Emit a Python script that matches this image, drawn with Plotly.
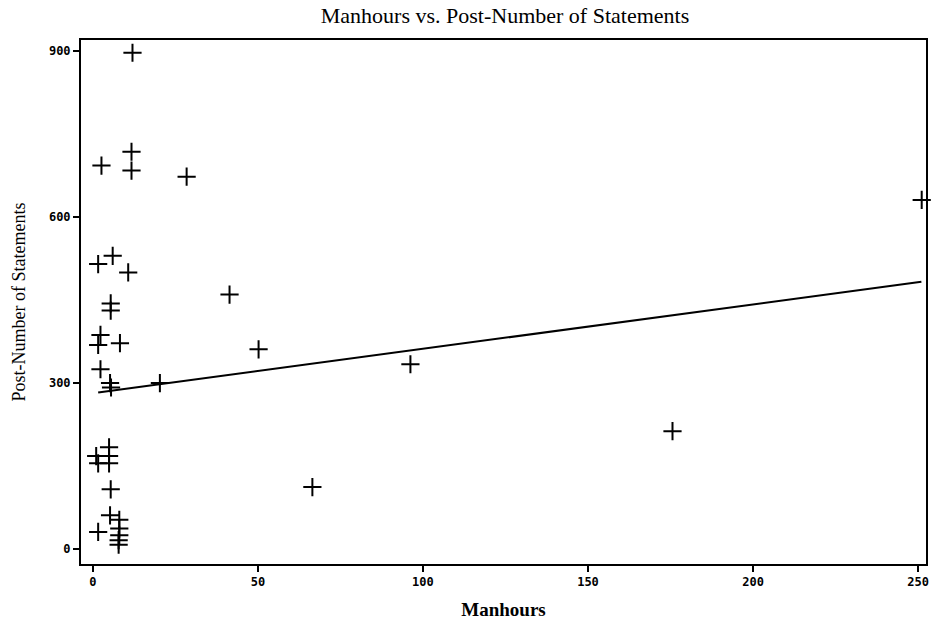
import plotly.graph_objects as go

# Scatter data (Manhours, Post-Number of Statements)
manhours = [12, 11.7, 2.6, 11.7, 28.4, 1.6, 6.0, 10.7, 41.4, 5.4, 5.4,
            2.3, 1.6, 8.2, 50.2, 2.3, 5.2, 5.5, 20.3,
            4.9, 1.0, 4.9, 1.6, 4.9, 5.4, 66.5,
            5.2, 8.0, 1.6, 8.0, 8.0, 7.8, 7.8,
            96.2, 175.6, 251.1]
statements = [897, 718, 693, 684, 673, 515, 530, 500, 460, 444, 431,
              387, 369, 372, 361, 325, 300, 292, 300,
              184, 168, 168, 155, 155, 108, 112,
              61, 53, 31, 37, 25, 16, 8,
              334, 213, 631]

# Fitted regression line endpoints
fit_x = [1.6, 251.0]
fit_y = [283, 483]

x_ticks = [0, 50, 100, 150, 200, 250]
y_ticks = [0, 300, 600, 900]

fig = go.Figure()
fig.add_trace(go.Scatter(
    x=fit_x, y=fit_y, mode="lines",
    line=dict(color="black", width=2), showlegend=False, hoverinfo="skip"))
fig.add_trace(go.Scatter(
    x=manhours, y=statements, mode="markers", cliponaxis=False,
    marker=dict(symbol="cross-thin", size=13, line=dict(color="black", width=2)),
    showlegend=False))

tick_font = dict(family="DejaVu Sans Mono", size=12, color="black", weight="bold")
fig.update_layout(
    width=932, height=634,
    margin=dict(l=81, r=6, t=40, b=70),
    paper_bgcolor="white", plot_bgcolor="white",
    title=dict(text="Manhours vs. Post-Number of Statements",
               x=505 / 932, xanchor="center", xref="container",
               y=1 - 15 / 634, yanchor="middle", yref="container",
               font=dict(family="Liberation Serif", size=22, color="black")),
    xaxis=dict(range=[-3.6, 252.4], tickvals=x_ticks, ticktext=[str(v) for v in x_ticks],
               automargin=False,
               showgrid=False, zeroline=False, showline=True, linecolor="black", linewidth=2,
               mirror=True, ticks="outside", ticklen=6, tickwidth=2, tickcolor="black",
               tickfont=tick_font,
               title=dict(text="Manhours", standoff=14,
                          font=dict(family="Liberation Serif", size=19, color="black",
                                    weight="bold"))),
    yaxis=dict(range=[-27, 920], tickvals=y_ticks, ticktext=[str(v) for v in y_ticks],
               automargin=False,
               showgrid=False, zeroline=False, showline=True, linecolor="black", linewidth=2,
               mirror=True, ticks="outside", ticklen=6, tickwidth=2, tickcolor="black",
               tickfont=tick_font,
               title=dict(text="Post-Number of Statements", standoff=19,
                          font=dict(family="Liberation Serif", size=18, color="black"))),
)

fig.write_html("out.html", config={"displayModeBar": False},
               post_script="document.body.style.margin='0';")
